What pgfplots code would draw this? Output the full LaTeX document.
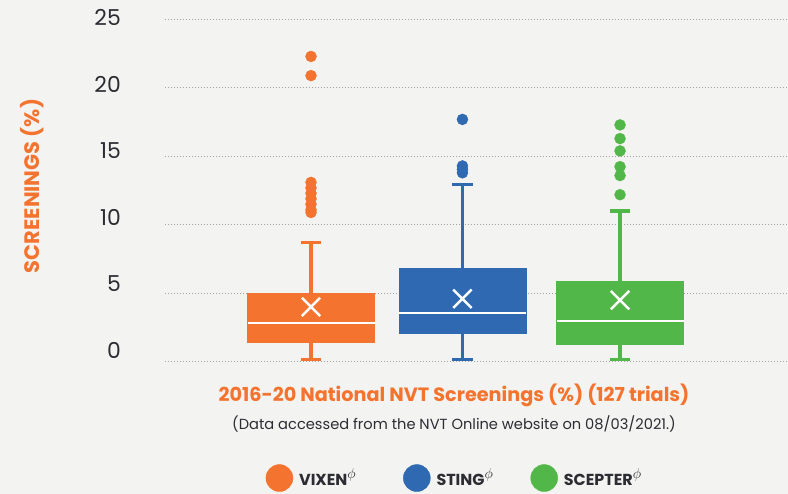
\documentclass[border=0pt]{standalone}
\usepackage{fontspec}
\setmainfont{Poppins}
\usepackage{pgfplots}
\pgfplotsset{compat=1.18}
\usepgfplotslibrary{statistics}
\definecolor{bg}{HTML}{F3F3F1}
\definecolor{cO}{HTML}{F4732E}
\definecolor{cB}{HTML}{2E69B2}
\definecolor{cG}{HTML}{52B749}
\definecolor{txt}{HTML}{2C2C33}
\definecolor{gridc}{HTML}{A0A0A0}
\newcommand{\phisup}{\raisebox{0.42em}{\fontsize{15}{15}\selectfont$\phi$}}
\begin{document}
\begin{tikzpicture}
\fill[bg] (0,0) rectangle (788bp,494bp);
\useasboundingbox (0,0) rectangle (788bp,494bp);

% tick labels (their own scale, as in the reference)
\begin{axis}[at={(165bp,132.3bp)}, anchor=south west, scale only axis,
  width=623bp, height=346.4bp, xmin=0, xmax=1, ymin=-0.881, ymax=25.2,
  ytick={0,5,...,25}, xtick=\empty, axis line style={draw=none},
  major tick length=0pt,
  /pgf/number format/assume math mode=true,
  yticklabel style={font=\fontsize{22}{22}\selectfont, text=txt, anchor=east, inner sep=0pt, xshift=-44bp}]
\end{axis}

\begin{axis}[at={(165bp,132.3bp)}, anchor=south west, scale only axis,
  width=623bp, height=342.2bp, xmin=0.055, xmax=4.087, ymin=0, ymax=25,
  ytick={0,5,...,25}, yticklabel style={opacity=0}, xtick=\empty, axis line style={draw=none},
  major tick length=0pt, ymajorgrids,
  grid style={gridc, line width=0.9bp, dash pattern=on 0.9bp off 2.1bp},
  clip=false,
  boxplot/draw direction=y,
  boxplot/box extend=0.822, boxplot/whisker extend=0.134,
  boxplot/every whisker/.style={line width=3.3bp},
  boxplot/every median/.style={draw=white, line width=2.2bp},
  legend columns=3,
  legend style={at={(0.4646,-0.34)}, anchor=center, draw=none, fill=none,
    font=\fontsize{16}{16}\selectfont\bfseries, text=txt,
    /tikz/every even column/.append style={column sep=0bp}},
  legend cell align=left]

\addplot[forget plot, boxplot prepared={draw position=1, lower whisker=0.15,
  lower quartile=1.45, median=2.8, upper quartile=5.0, upper whisker=8.7},
  draw=cO, fill=cO, mark=*, mark size=5.5bp, mark options={draw=cO, fill=cO}]
  table[row sep=\\, y index=0] {data\\ 22.3\\ 20.9\\ 13.1\\ 12.7\\ 12.3\\ 11.9\\ 11.5\\ 11.1\\ 10.9\\};

\addplot[forget plot, boxplot prepared={draw position=1.98, lower whisker=0.15,
  lower quartile=2.05, median=3.58, upper quartile=6.85, upper whisker=12.97},
  draw=cB, fill=cB, mark=*, mark size=5.5bp, mark options={draw=cB, fill=cB}]
  table[row sep=\\, y index=0] {data\\ 17.7\\ 14.3\\ 14.05\\ 13.8\\};

\addplot[forget plot, boxplot prepared={draw position=3, lower whisker=0.15,
  lower quartile=1.25, median=2.95, upper quartile=5.9, upper whisker=11.0},
  draw=cG, fill=cG, mark=*, mark size=5.5bp, mark options={draw=cG, fill=cG}]
  table[row sep=\\, y index=0] {data\\ 17.3\\ 16.3\\ 15.4\\ 14.25\\ 13.6\\ 12.2\\};

\addplot[forget plot, only marks, mark=x, mark size=13bp,
  mark options={draw=white, line width=2.5bp}]
  coordinates {(1,4.0) (1.98,4.6) (3,4.5)};

\addlegendimage{legend image code/.code={\fill[cO] (0bp,0bp) circle (13.5bp); \path (17.5bp,0bp);}}
\addlegendentry{\makebox[102bp][l]{VIXEN\phisup}}
\addlegendimage{legend image code/.code={\fill[cB] (0bp,0bp) circle (13.5bp); \path (17.5bp,0bp);}}
\addlegendentry{\makebox[92bp][l]{STING\phisup}}
\addlegendimage{legend image code/.code={\fill[cG] (0bp,0bp) circle (13.5bp); \path (17.5bp,0bp);}}
\addlegendentry{SCEPTER\phisup}
\end{axis}

\node[anchor=base, text=cO, font=\fontsize{19.3}{19.3}\selectfont\bfseries] at (454bp,92.3bp) {2016-20 National NVT Screenings (\%) (127 trials)};
\node[anchor=base, text=txt, font=\fontsize{14.7}{14.7}\selectfont] at (454bp,64bp) {(Data accessed from the NVT Online website on 08/03/2021.)};
\node[rotate=90, text=cO, font=\fontsize{21}{21}\selectfont\bfseries] at (32bp,308bp) {SCREENINGS (\%)};
\end{tikzpicture}
\end{document}
